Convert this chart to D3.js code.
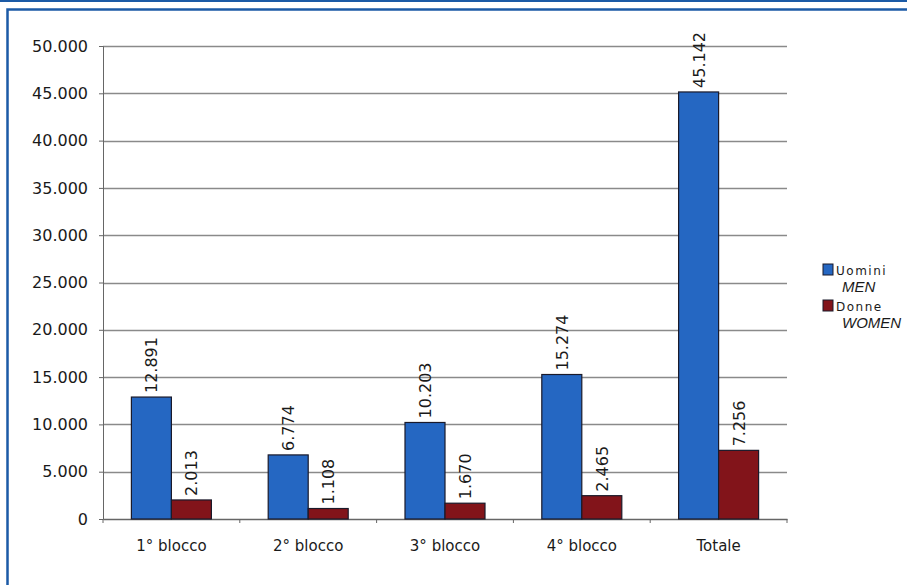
<!DOCTYPE html>
<html>
<head>
<meta charset="utf-8">
<script src="https://cdn.jsdelivr.net/npm/d3@7"></script>
<style>
  body { margin: 0; background: #fff; }
  svg { display: block; font-family: "DejaVu Sans", Verdana, sans-serif; }
</style>
</head>
<body>
<svg id="chart" width="907" height="585"></svg>
<script>
// data
let categories = ["1° blocco", "2° blocco", "3° blocco", "4° blocco", "Totale"];
let uomini = [12891, 6774, 10203, 15274, 45142];
let donne = [2013, 1108, 1670, 2465, 7256];
let yTicks = [0, 5000, 10000, 15000, 20000, 25000, 30000, 35000, 40000, 45000, 50000];
let seriesNames = [["Uomini", "MEN"], ["Donne", "WOMEN"]];
let seriesColors = ["#2567c2", "#82141a"];

let svg = d3.select("#chart");
let margin = {left: 103, right: 120, top: 46, bottom: 66};
let W = 907, H = 585;

// frame
svg.append("rect").attr("x", 0).attr("y", 0).attr("width", W).attr("height", 2).attr("fill", "#1b5aa6");
svg.append("path").attr("d", `M7.5,${H} V9.5 H${W}`)
  .attr("fill", "none").attr("stroke", "#1b5aa6").attr("stroke-width", 2.5);

let nf = d3.formatLocale({decimal: ",", thousands: ".", grouping: [3], currency: ["", "€"]}).format(",d");

let x = d3.scaleBand().domain(categories).range([margin.left, W - margin.right]);
let y = d3.scaleLinear().domain([0, 50000]).range([H - margin.bottom, margin.top]);
let xs = d3.scaleBand().domain([0, 1]).range([0, 80]);

// grid
svg.append("g").selectAll("line").data(yTicks.slice(1)).join("line")
  .attr("x1", margin.left).attr("x2", W - margin.right)
  .attr("y1", d => Math.round(y(d)) + 0.5).attr("y2", d => Math.round(y(d)) + 0.5)
  .attr("stroke", "#8a8a8a").attr("stroke-width", 1.3);

// y axis
let yAxis = svg.append("g").attr("transform", `translate(${margin.left},0)`)
  .call(d3.axisLeft(y).tickValues(yTicks).tickFormat(nf).tickSize(4).tickPadding(11));
yAxis.selectAll("text").attr("font-size", 16).attr("fill", "#1a1a1a").attr("font-family", "DejaVu Sans");
yAxis.selectAll("line,path").attr("stroke", "#666");

// x axis
let xAxis = svg.append("g").attr("transform", `translate(0,${y(0)})`)
  .call(d3.axisBottom(x).tickSize(0).tickPadding(21));
xAxis.selectAll("text").attr("font-size", 15).attr("fill", "#1a1a1a").attr("font-family", "DejaVu Sans");
xAxis.select("path").attr("stroke", "#666").attr("stroke-width", 1.3);
xAxis.append("g").selectAll("line").data(d3.range(categories.length + 1)).join("line")
  .attr("x1", i => margin.left + i * x.step()).attr("x2", i => margin.left + i * x.step())
  .attr("y1", 0).attr("y2", 4).attr("stroke", "#666");

// bars
let rows = categories.map((c, i) => ({c, vals: [uomini[i], donne[i]]}));
let groups = svg.append("g").selectAll("g").data(rows).join("g")
  .attr("transform", d => `translate(${x(d.c) + x.bandwidth() / 2 - 40},0)`);
groups.selectAll("rect").data(d => d.vals.map((v, k) => ({v, k}))).join("rect")
  .attr("x", d => xs(d.k)).attr("width", xs.bandwidth())
  .attr("y", d => y(d.v)).attr("height", d => y(0) - y(d.v))
  .attr("fill", d => seriesColors[d.k]).attr("stroke", "#1a1a2a").attr("stroke-width", 1.2);
groups.selectAll("text").data(d => d.vals.map((v, k) => ({v, k}))).join("text")
  .attr("transform", d => `translate(${xs(d.k) + xs.bandwidth() / 2 + 6},${y(d.v) - 4}) rotate(-90)`)
  .attr("font-size", 16).attr("fill", "#1a1a1a")
  .text(d => nf(d.v));

// legend
let lg = svg.append("g").attr("transform", "translate(823,264)");
seriesNames.forEach((n, k) => {
  let g = lg.append("g").attr("transform", `translate(0,${k * 36})`);
  g.append("rect").attr("width", 10).attr("height", 11).attr("fill", seriesColors[k]).attr("stroke", "#1a1a2a");
  g.append("text").attr("x", 13).attr("y", 11).attr("font-size", 12).attr("letter-spacing", 1.5)
    .attr("fill", "#1a1a1a").text(n[0]);
  g.append("text").attr("x", 19).attr("y", 28).attr("font-size", 15).attr("font-style", "italic")
    .attr("font-family", "Liberation Sans, Arial").attr("fill", "#1a1a1a").text(n[1]);
});
</script>
</body>
</html>
